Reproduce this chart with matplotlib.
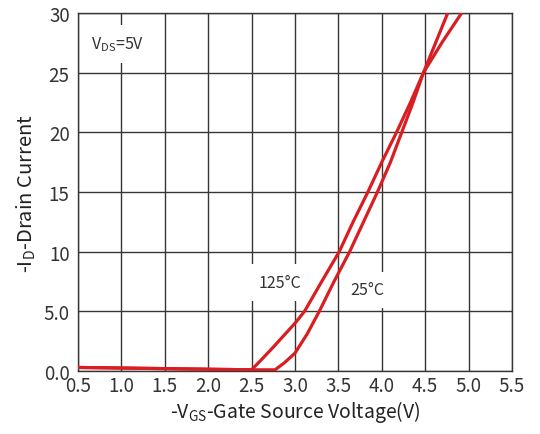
import matplotlib
matplotlib.use("Agg")
import matplotlib.pyplot as plt

plt.rcParams['font.family'] = ['Noto Sans CJK SC', 'DejaVu Sans']

# Transfer characteristics
vgs_125 = [0.5, 1.0, 1.5, 2.0, 2.5, 2.62, 2.75, 2.9, 3.0, 3.11, 3.3, 3.51,
           3.67, 3.84, 4.0, 4.17, 4.33, 4.48, 4.7, 4.92]
id_125 = [0.3, 0.25, 0.2, 0.15, 0.1, 1.0, 2.0, 3.2, 4.0, 5.0, 7.4, 10.0,
          12.5, 15.0, 17.5, 20.0, 22.5, 25.0, 27.6, 30.0]

vgs_25 = [0.5, 1.0, 1.5, 2.0, 2.5, 2.77, 2.88, 3.0, 3.14, 3.28, 3.45, 3.63,
          3.79, 3.95, 4.1, 4.23, 4.36, 4.48, 4.62, 4.76]
id_25 = [0.3, 0.25, 0.2, 0.15, 0.1, 0.1, 0.7, 1.5, 3.1, 5.0, 7.5, 10.0,
         12.5, 15.0, 17.5, 20.0, 22.5, 25.0, 27.5, 30.0]

x_ticks = [0.5, 1.0, 1.5, 2.0, 2.5, 3.0, 3.5, 4.0, 4.5, 5.0, 5.5]
y_ticks = [0, 5, 10, 15, 20, 25, 30]
y_labels = ["0.0", "5.0", "10", "15", "20", "25", "30"]

RED = "#d81e22"
GRID = "#3a3535"

fig = plt.figure(figsize=(5.4, 4.35), dpi=100)
ax = fig.add_axes([0.1444, 0.1448, 0.8037, 0.823])

ax.plot(vgs_125, id_125, color=RED, lw=2.3, zorder=4, solid_capstyle="butt")
ax.plot(vgs_25, id_25, color=RED, lw=2.3, zorder=4, solid_capstyle="butt")

ax.set_xlim(0.5, 5.5)
ax.set_ylim(0, 30)
ax.set_xticks(x_ticks)
ax.set_xticklabels([f"{v:.1f}" for v in x_ticks])
ax.set_yticks(y_ticks)
ax.set_yticklabels(y_labels)
ax.tick_params(length=0, labelsize=13.5, colors="#333333", pad=3)
ax.tick_params(axis="y", pad=6)

ax.grid(True, color=GRID, lw=1.0)
ax.set_axisbelow(True)
for s in ax.spines.values():
    s.set_color(GRID)
    s.set_linewidth(1.0)

box = dict(facecolor="white", edgecolor="none", pad=7)
ax.text(0.96, 27.4, "V$_{\\mathregular{DS}}$=5V", fontsize=11.5, ha="center", va="center",
        color="#333333", bbox=box, zorder=3)
ax.text(2.83, 7.4, "125°C", fontsize=11.5, ha="center", va="center",
        color="#333333", bbox=box, zorder=3)
ax.text(3.83, 6.8, "25°C", fontsize=11.5, ha="center", va="center",
        color="#333333", bbox=box, zorder=3)

ax.set_xlabel("-V$_{\\mathregular{GS}}$-Gate Source Voltage(V)", fontsize=14,
              color="#222222", labelpad=1)
ax.set_ylabel("-I$_{\\mathregular{D}}$-Drain Current", fontsize=14.5,
              color="#222222", labelpad=4)

fig.savefig("out.png", dpi=100)
